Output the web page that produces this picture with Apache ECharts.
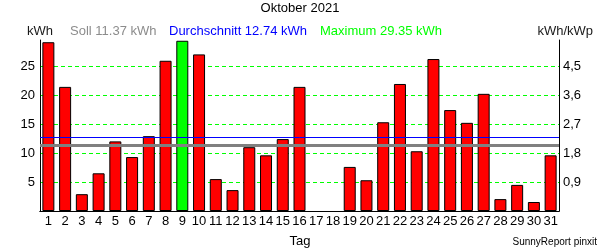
<!DOCTYPE html>
<html><head><meta charset="utf-8">
<script src="https://cdn.jsdelivr.net/npm/echarts@6/dist/echarts.min.js"></script>
<style>html,body{margin:0;padding:0;background:#fff}#c{width:600px;height:250px}</style>
</head><body><div id="c"></div>
<script>
const days = ["1","2","3","4","5","6","7","8","9","10","11","12","13","14","15","16","17","18","19","20","21","22","23","24","25","26","27","28","29","30","31"];
const energy = [29.1,21.4,2.9,6.5,12.0,9.3,12.9,25.9,29.35,27.0,5.5,3.6,11.0,9.6,12.4,21.4,0,0,7.6,5.3,15.3,21.9,10.3,26.2,17.4,15.2,20.2,2.05,4.5,1.55,9.6];
const soll = 11.37;
const avg = 12.74;
const maxVal = 29.35;
const leftTicks = [5,10,15,20,25];
const rightTicks = [0.9,1.8,2.7,3.6,4.5];
const kwp = 25/4.5;
const yMax = 171/5.8;

const maxIdx = energy.indexOf(Math.max.apply(null, energy));
const font = "Liberation Sans, Arial, sans-serif";
const gridStyle = {color:'#00ff00',type:[4,3],width:1};
function t(text, pos, color, size){
  return Object.assign({text:text, padding:0, textStyle:{fontSize:size||13,fontWeight:'normal',color:color,fontFamily:font}}, pos);
}
const chart = echarts.init(document.getElementById('c'), null, {renderer:'canvas'});
chart.setOption({
  animation:false,
  backgroundColor:'#fff',
  textStyle:{fontFamily:font},
  title:[
    t('Oktober 2021', {left:'center', top:2}, '#000'),
    t('kWh', {left:27, top:25}, '#1a1a1a'),
    t('Soll ' + soll.toFixed(2) + ' kWh', {left:70, top:25}, '#8c8c8c'),
    t('Durchschnitt ' + avg.toFixed(2) + ' kWh', {left:169, top:25}, '#0000ff'),
    t('Maximum ' + maxVal.toFixed(2) + ' kWh', {left:320, top:25}, '#00ff00'),
    t('kWh/kWp', {right:7, top:25}, '#1a1a1a'),
    t('Tag', {left:'center', top:235}, '#000'),
    t('SunnyReport pinxit', {right:3, top:237}, '#000', 10)
  ],
  grid:{left:40,right:41,top:40,bottom:39,show:false},
  xAxis:[
    {type:'category',data:days,position:'bottom',z:5,axisLine:{show:true,lineStyle:{color:'#000',width:1}},axisTick:{show:false},
     splitLine:{show:false},splitArea:{show:false},
     axisLabel:{color:'#000',fontSize:13,margin:4,interval:0,fontFamily:font}},
    {type:'category',data:days,position:'top',z:5,axisLine:{show:true,lineStyle:{color:'#000',width:1}},axisTick:{show:false},
     splitLine:{show:false},splitArea:{show:false},axisLabel:{show:false}}
  ],
  yAxis:[
    {type:'value',min:0,max:yMax,interval:5,position:'left',z:0,axisLine:{show:true,lineStyle:{color:'#000',width:1}},axisTick:{show:false},
     axisLabel:{color:'#000',fontSize:13,margin:5,showMinLabel:false,showMaxLabel:false,fontFamily:font,
       formatter:v=>leftTicks.indexOf(v)>=0?String(v):''},
     splitLine:{show:true,showMinLine:false,showMaxLine:false,lineStyle:gridStyle},splitArea:{show:false}},
    {type:'value',min:0,max:yMax/kwp,interval:0.9,position:'right',z:5,alignTicks:false,axisLine:{show:true,lineStyle:{color:'#000',width:1}},axisTick:{show:false},
     axisLabel:{color:'#000',fontSize:13,margin:4,showMinLabel:false,showMaxLabel:false,fontFamily:font,
       formatter:v=>{const r=Math.round(v*10)/10;return rightTicks.indexOf(r)>=0?r.toFixed(1).replace('.',','):'';}},
     splitLine:{show:false,lineStyle:gridStyle},splitArea:{show:false}}
  ],
  series:[{
    type:'bar',
    z:2,
    data:energy.map((v,i)=>({value:v,itemStyle:{color:i===maxIdx?'#00ff00':'#ff0000',borderWidth:v>0?1:0}})),
    barWidth:12,
    itemStyle:{borderColor:'#000',borderWidth:1},
    markLine:{silent:true,symbol:'none',label:{show:false},
      data:[
        {yAxis:soll,lineStyle:{color:'#808080',width:3,type:'solid'}},
        {yAxis:avg,lineStyle:{color:'#0000ff',width:1,type:'solid'}}
      ]}
  }]
});
</script></body></html>
